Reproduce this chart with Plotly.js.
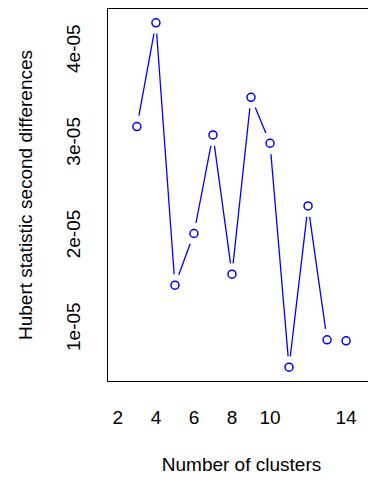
<!DOCTYPE html>
<html>
<head>
<meta charset="utf-8">
<script src="https://cdn.plot.ly/plotly-3.0.1.min.js"></script>
<style>
html, body { margin: 0; padding: 0; overflow: hidden; background: #fff; }
#chart { width: 375px; height: 479px; }
</style>
</head>
<body>
<div id="chart"></div>
<script>
const clusters = [3, 4, 5, 6, 7, 8, 9, 10, 11, 12, 13, 14];
const hubertSecondDiff = [3.19e-5, 4.31e-5, 1.478e-5, 2.036e-5, 3.10e-5, 1.597e-5, 3.506e-5, 3.01e-5, 0.593e-5, 2.334e-5, 0.889e-5, 0.878e-5];
const xTickVals = [2, 4, 6, 8, 10, 14];
const yTickVals = [1e-5, 2e-5, 3e-5, 4e-5];
const yTickText = ['1e-05', '2e-05', '3e-05', '4e-05'];

const blue = '#0000FF';
const font = { family: 'Liberation Sans, Arial, sans-serif', size: 19, color: '#000' };

const traces = [
  { x: clusters, y: hubertSecondDiff, type: 'scatter', mode: 'lines',
    line: { color: blue, width: 1.3 }, hoverinfo: 'skip', showlegend: false },
  { x: clusters, y: hubertSecondDiff, type: 'scatter', mode: 'markers',
    marker: { color: '#fff', size: 22, line: { width: 0 } }, hoverinfo: 'skip', showlegend: false },
  { x: clusters, y: hubertSecondDiff, type: 'scatter', mode: 'markers',
    marker: { symbol: 'circle-open', color: blue, size: 8, line: { color: blue, width: 1.5 } },
    showlegend: false }
];

const layout = {
  width: 375, height: 479,
  margin: { l: 108, r: 0, t: 9, b: 97.5 },
  paper_bgcolor: '#fff', plot_bgcolor: '#fff',
  font: font,
  showlegend: false,
  xaxis: {
    range: [1.48, 15.52], tickvals: xTickVals, ticks: '', showgrid: false, zeroline: false,
    showline: true, mirror: true, linecolor: '#000', linewidth: 1.3,
    ticklabelstandoff: 19, tickfont: font,
    title: { text: 'Number of clusters', font: font, standoff: 30 }, automargin: false
  },
  yaxis: {
    range: [0.444e-5, 4.459e-5], tickvals: yTickVals, ticktext: yTickText, ticks: '',
    showgrid: false, zeroline: false, showline: true, mirror: true, linecolor: '#000', linewidth: 1.3,
    tickangle: -90, ticklabelstandoff: 19, tickfont: font,
    title: { text: 'Hubert statistic second differences', font: font, standoff: 25 }, automargin: false
  }
};

Plotly.newPlot('chart', traces, layout, { displayModeBar: false, staticPlot: true });
</script>
</body>
</html>
